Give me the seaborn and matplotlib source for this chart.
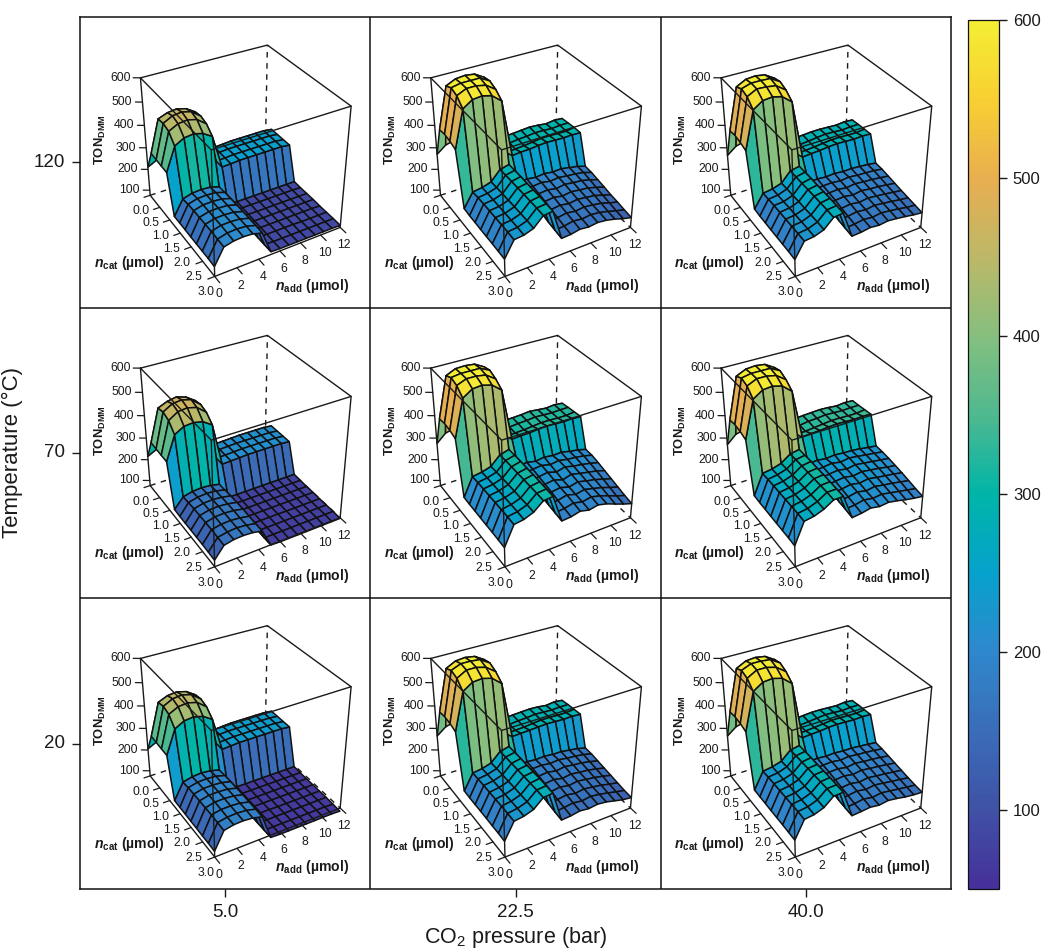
import numpy as np
import matplotlib
matplotlib.use('Agg')
import matplotlib.pyplot as plt
from matplotlib.colors import Normalize
from mpl_toolkits.mplot3d import proj3d
import seaborn as sns

n_add = [0, .857, 1.714, 2.571, 3.429, 4.286, 5.143, 6, 6.857, 7.714, 8.571, 9.429, 10.286, 11.143, 12]
n_cat = [0, .25, .5, .75, 1, 1.25, 1.5, 1.75, 2, 2.25, 2.5, 2.75, 3]
pressures = ['5.0', '22.5', '40.0']
temperatures = ['120', '70', '20']
z_ticks = [100, 200, 300, 400, 500, 600]
add_ticks = [0, 2, 4, 6, 8, 10, 12]
cat_ticks = [0, .5, 1, 1.5, 2, 2.5, 3]
cb_ticks = [100, 200, 300, 400, 500, 600]
cb_stops = ['#46309a', '#3f52a6', '#3a6db8', '#2f88cc', '#05a2cc', '#00b5a8', '#4fb98f', '#85bf7f',
            '#bcb868', '#e8ae50', '#f8cf32', '#f4ee34']

ton_a = [  # 5 bar, 120 C
[210,230,240,240,240,230,180,180,180,180,180,180,180,180,180],
[300,440,455,460,450,425,240,240,242,245,245,245,245,245,240],
[298,445,465,470,460,430,240,242,245,245,245,245,245,245,240],
[296,435,455,460,450,420,240,242,245,245,245,245,245,245,240],
[295,398,420,425,415,390,240,242,245,245,245,245,245,245,240],
[123,190,202,205,202,190,90,90,90,90,90,90,90,90,90],
[123,195,206,208,205,192,90,90,90,90,90,90,90,90,88],
[123,196,207,208,205,193,89,89,88,88,88,88,88,88,88],
[122,196,207,208,205,193,88,88,88,88,88,88,88,88,88],
[122,196,207,208,205,193,88,88,88,88,88,88,88,88,86],
[122,196,207,208,205,193,88,88,88,88,88,86,86,86,86],
[122,194,205,207,204,192,88,86,86,86,86,86,86,86,86],
[120,192,202,205,202,190,88,86,86,86,86,86,86,86,85]]
ton_b = [  # 22.5 bar, 120 C
[270,300,310,310,310,300,200,200,200,200,200,200,200,200,200],
[405,578,596,600,595,572,285,290,292,295,298,295,290,295,292],
[410,592,600,600,600,578,280,285,290,292,296,295,292,295,295],
[405,582,600,600,592,565,280,283,286,290,295,295,293,292,298],
[395,552,578,582,572,540,292,295,296,300,302,300,298,300,298],
[160,222,228,240,282,292,195,198,192,196,190,192,185,178,165],
[157,225,230,242,284,292,188,192,196,188,192,186,182,175,162],
[157,226,230,243,284,292,182,186,190,182,188,182,178,168,155],
[156,226,230,243,284,290,175,180,184,176,182,176,172,160,148],
[156,226,230,244,284,290,168,172,178,170,176,170,165,152,140],
[156,226,230,244,284,290,160,165,172,165,170,165,158,145,135],
[155,226,230,244,284,288,155,158,166,160,165,160,150,138,128],
[154,224,228,242,282,286,150,152,160,155,160,155,145,132,122]]
ton_c = [  # 40 bar, 120 C
[265,295,305,305,305,295,195,195,195,195,195,195,195,195,195],
[400,574,594,598,592,568,278,282,285,288,288,286,284,288,285],
[405,588,600,600,598,575,274,278,282,286,290,288,285,288,288],
[400,578,598,596,590,562,274,277,280,284,288,288,286,285,290],
[390,548,574,578,568,536,285,288,290,294,296,294,292,294,292],
[158,216,222,234,276,284,196,198,194,197,192,193,190,186,180],
[155,218,222,236,276,284,190,194,195,190,194,189,187,184,178],
[155,219,222,236,276,284,185,190,192,186,191,186,183,178,172],
[154,219,223,237,276,282,180,185,188,181,187,181,178,172,166],
[154,219,223,237,276,282,174,178,183,176,182,177,172,166,160],
[154,219,223,238,276,282,168,172,178,172,178,172,167,160,155],
[154,219,223,238,276,280,164,167,173,168,173,168,162,154,150],
[152,218,222,236,274,278,160,162,168,163,168,163,157,150,145]]
ton_d = [  # 5 bar, 70 C
[215,235,245,245,245,235,170,170,170,170,170,170,170,170,170],
[305,445,462,470,458,432,208,208,210,212,214,214,214,214,210],
[303,452,475,480,470,438,208,210,212,214,214,214,214,214,210],
[301,440,465,470,460,428,208,210,212,214,214,214,214,214,210],
[300,405,428,432,424,398,208,210,212,214,214,214,214,214,210],
[110,155,165,168,165,156,78,78,78,78,78,78,78,78,78],
[108,158,168,171,168,158,76,76,76,76,76,76,76,76,76],
[108,160,170,172,168,160,76,75,75,75,75,75,75,75,75],
[108,160,170,172,168,160,75,75,75,75,75,75,75,75,75],
[108,160,170,172,168,160,75,75,75,75,74,74,74,74,74],
[108,160,168,170,166,158,75,74,74,74,74,74,74,74,74],
[107,158,166,169,165,156,74,74,74,74,74,74,74,74,74],
[105,156,165,167,164,155,74,72,72,72,72,72,72,72,72]]
ton_e = [  # 22.5 bar, 70 C
[275,310,320,320,320,310,210,210,210,210,210,210,210,210,210],
[410,580,598,600,596,575,312,318,320,322,326,322,318,322,318],
[415,594,600,600,600,582,308,314,318,320,324,322,320,322,322],
[410,584,600,600,594,568,308,312,314,318,322,322,320,320,325],
[400,556,582,586,576,545,322,325,326,330,332,330,328,330,328],
[167,248,254,266,304,316,225,230,222,228,222,224,216,210,200],
[165,250,256,268,306,316,218,226,230,220,226,218,214,208,198],
[165,250,256,269,306,316,212,220,226,214,224,214,208,200,190],
[164,250,256,270,306,314,205,214,220,206,218,208,200,192,180],
[164,250,256,270,306,314,200,208,214,202,212,202,194,182,170],
[164,250,256,270,306,312,195,200,210,198,206,196,186,172,160],
[163,250,256,271,306,310,190,194,204,194,202,192,178,162,150],
[162,248,254,270,304,308,185,188,198,188,196,186,170,155,142]]
ton_f = [  # 40 bar, 70 C
[270,305,315,315,315,305,225,225,225,225,225,225,225,225,225],
[405,578,596,600,595,572,322,326,330,332,334,332,328,332,330],
[410,592,600,600,600,580,318,322,328,330,334,332,330,332,332],
[405,582,600,600,592,565,318,320,324,328,332,332,330,330,335],
[395,552,578,582,572,540,332,335,336,340,342,340,338,340,338],
[175,262,268,280,308,316,236,240,234,238,234,232,228,222,216],
[173,264,270,282,310,316,230,236,240,232,238,232,226,220,214],
[173,264,270,283,310,316,226,232,236,228,234,228,222,216,210],
[172,264,270,283,310,314,222,228,232,224,230,224,218,210,204],
[172,264,270,284,310,314,216,222,228,220,226,218,212,206,198],
[172,264,270,284,310,312,210,216,224,214,220,212,206,198,190],
[172,264,270,285,310,310,206,210,218,210,214,206,198,190,182],
[170,262,268,283,308,308,200,204,212,204,208,200,190,182,176]]
ton_g = [  # 5 bar, 20 C
[205,225,235,235,235,225,175,175,175,175,175,175,175,175,175],
[290,428,445,450,440,415,232,232,235,238,238,238,238,238,234],
[288,435,455,460,450,420,232,235,238,238,238,238,238,238,234],
[286,425,445,450,440,410,232,235,238,238,238,238,238,238,234],
[285,388,410,415,405,380,232,235,238,238,238,238,238,238,234],
[106,178,188,192,188,178,68,68,68,68,68,68,68,68,68],
[105,182,192,194,191,180,66,66,66,66,66,66,66,66,66],
[105,183,193,194,191,181,66,65,65,65,65,65,65,65,65],
[104,183,193,194,191,181,65,65,65,65,65,65,65,65,65],
[104,183,193,194,191,181,65,65,65,64,64,64,64,64,64],
[103,183,191,192,189,179,64,64,64,64,64,64,64,64,64],
[103,181,189,191,188,178,64,64,64,64,64,64,64,64,62],
[101,179,188,190,186,176,64,62,62,62,62,62,62,62,60]]
ton_h = [  # 22.5 bar, 20 C
[265,295,305,305,305,295,190,190,190,190,190,190,190,190,190],
[398,570,590,594,588,565,280,285,288,290,292,290,285,290,286],
[402,584,600,600,596,572,276,282,286,288,292,290,288,290,290],
[398,574,596,596,586,558,276,280,282,286,290,290,288,288,292],
[388,544,570,574,564,532,290,292,294,296,298,296,294,296,294],
[152,220,226,238,276,286,185,188,184,186,182,182,176,170,160],
[150,222,228,240,278,286,178,184,186,180,184,178,174,168,158],
[150,222,228,241,278,286,174,178,182,174,180,174,170,162,152],
[150,222,228,241,278,284,168,172,177,168,174,168,164,156,146],
[150,222,228,242,278,284,162,166,172,164,170,164,158,150,140],
[149,222,228,242,278,284,156,160,166,158,164,158,152,142,134],
[149,222,228,242,278,282,150,154,160,154,160,154,146,136,128],
[147,220,226,240,276,280,145,148,155,150,155,150,140,130,125]]
ton_i = [  # 40 bar, 20 C
[265,295,305,305,305,295,200,200,200,200,200,200,200,200,200],
[398,570,590,594,588,565,278,282,285,288,288,286,284,288,285],
[402,584,600,600,596,572,274,278,282,286,290,288,285,288,288],
[398,574,596,596,586,558,274,277,280,284,288,288,286,285,290],
[388,544,570,574,564,532,285,288,290,294,296,294,292,294,292],
[156,228,234,246,282,290,200,204,200,202,198,198,194,190,185],
[155,230,235,248,284,290,195,200,202,196,200,195,192,188,182],
[155,230,235,248,284,290,190,196,198,190,196,190,187,182,176],
[154,230,235,249,284,288,184,190,194,186,192,186,182,176,170],
[154,230,235,249,284,288,178,184,188,180,186,180,176,170,164],
[154,230,235,250,284,288,172,178,184,176,182,176,170,164,158],
[153,230,235,250,284,286,168,172,178,170,176,170,164,158,153],
[152,228,233,248,282,284,165,168,172,166,172,166,158,153,150]]

panels = [[ton_a, ton_b, ton_c], [ton_d, ton_e, ton_f], [ton_g, ton_h, ton_i]]

sns.set_theme(style='ticks')
plt.rcParams['font.family'] = ['Liberation Sans', 'DejaVu Sans']
plt.rcParams.update({'mathtext.fontset': 'custom', 'mathtext.rm': 'Liberation Sans',
                     'mathtext.it': 'Liberation Sans:italic', 'mathtext.bf': 'Liberation Sans:bold',
                     'mathtext.bfit': 'Liberation Sans:italic:bold',
                     'text.color': '#1a1a1a', 'xtick.color': '#1a1a1a', 'ytick.color': '#1a1a1a',
                     'axes.labelcolor': '#1a1a1a'})
W, H = 1042, 950
fig = plt.figure(figsize=(W / 100, H / 100), dpi=100)
cmap = sns.blend_palette(cb_stops, as_cmap=True)

outer = fig.add_axes([80 / W, 1 - 889 / H, 871 / W, 872 / H])
cax = fig.add_axes([968 / W, 1 - 889 / H, 31 / W, 869 / H])
means = [[float(np.mean(t)) for t in row] for row in panels]
sns.heatmap(means, ax=outer, cbar_ax=cax, cmap=cmap, vmin=50, vmax=600,
            xticklabels=pressures, yticklabels=temperatures)
outer.collections[0].set_visible(False)
for s in outer.spines.values():
    s.set_visible(True); s.set_linewidth(1.1); s.set_color('#111111')
for k in (1, 2):
    outer.axhline(k, color='#111111', lw=1.1)
    outer.axvline(k, color='#111111', lw=1.1)
outer.tick_params(axis='both', length=6, width=1, labelsize=13.5, pad=5, rotation=0)
outer.set_xlabel('CO$_2$ pressure (bar)', fontsize=15.5, labelpad=2.5)
outer.set_ylabel('Temperature (°C)', fontsize=16)
outer.yaxis.set_label_coords((23 - 80) / 871, 0.5)
cb = outer.collections[0].colorbar
cb.set_ticks(cb_ticks)
cb.ax.tick_params(length=6, width=1, labelsize=12, pad=4)
cb.outline.set_visible(True); cb.outline.set_linewidth(0.9); cb.outline.set_edgecolor('#111111')

ELEV, AZIM, FOC, RY, RZ = 33.878, -119.99, 0.5853, 1.0106, 0.9851
SCALE, TX, TY = 1321.222, 242.516, 154.305
SIZE = SCALE * 0.185
XL, YL, ZL = (0, 12), (3, 0), (75, 600)
STEP = 290.3
LINE = '#1a1a1a'

def box_edges(ax):
    a0, a1 = XL
    c1, c0 = YL
    z0, z1 = ZL
    kw = dict(color=LINE, lw=1.0, zorder=5)
    dash = dict(color=LINE, lw=1.0, zorder=1, ls=(0, (4, 4)))
    ax.plot([a1, a1], [c0, c0], [z0, z1], **dash)
    ax.plot([a0, a1], [c0, c0], [z0, z0], **dash)
    ax.plot([a1, a1], [c0, c1], [z0, z0], **dash)
    ax.plot([a0, a1, a1, a0, a0], [c0, c0, c1, c1, c0], [z1, z1, z1, z1, z1], **kw)
    ax.plot([a0, a0], [c0, c0], [z0, z1], **kw)
    ax.plot([a0, a0], [c1, c1], [z0, z1], **kw)
    ax.plot([a1, a1], [c1, c1], [z0, z1], **kw)
    ax.plot([a0, a1], [c1, c1], [z0, z0], **kw)
    ax.plot([a0, a0], [c0, c1], [z0, z0], **kw)

for r, row in enumerate(panels):
    for c, table in enumerate(row):
        dx, dy = c * STEP, r * STEP
        left = TX - 0.095 * SCALE + dx
        bottom = TY + 0.095 * SCALE + dy
        ax = fig.add_axes([left / W, 1 - bottom / H, SIZE / W, SIZE / H], projection='3d')
        ax.computed_zorder = False
        ax.set_xlim(*XL, view_margin=0); ax.set_ylim(*YL, view_margin=0); ax.set_zlim(*ZL, view_margin=0)
        ax.view_init(ELEV, AZIM, 0)
        ax.set_proj_type('persp', focal_length=FOC)
        ax.set_box_aspect((1, RY, RZ), zoom=1)
        ax.set_axis_off()
        ax.patch.set_alpha(0)
        X, Y = np.meshgrid(n_add, n_cat)
        Z = np.array(table, float)
        box_edges(ax)
        ax.plot_surface(X, Y, Z, cmap=cmap, norm=Normalize(50, 600), rstride=1, cstride=1,
                        edgecolor='#111111', linewidth=1.1, shade=False, antialiased=True, zorder=3)
        M = ax.get_proj()
        def note(x, y, z, s, ox, oy, **k):
            px, py, _ = proj3d.proj_transform(x, y, z, M)
            ax.annotate(s, (px, py), xytext=(ox, oy), textcoords='offset pixels',
                        annotation_clip=False, fontsize=8.8, ha=k.get('ha', 'center'), va='center', zorder=6)
        for t in add_ticks:
            ax.plot([t, t], [3, 3.2], [ZL[0], ZL[0]], color=LINE, lw=0.9, zorder=5, clip_on=False)
            note(t, 3, ZL[0], str(t), 4, -18)
        for t in cat_ticks:
            ax.plot([0, -0.6], [t, t], [ZL[0], ZL[0]], color=LINE, lw=0.9, zorder=5, clip_on=False)
            note(0, t, ZL[0], f'{t:.1f}', -9, -16)
        for t in z_ticks:
            ax.plot([0, -0.5], [0, -0.075], [t, t], color=LINE, lw=0.9, zorder=5, clip_on=False)
            note(0, 0, t, str(t), -10, 0, ha='right')
        fig.text((100 + dx) / W, 1 - (140 + dy) / H, r'$\mathbf{TON}_{\mathbf{DMM}}$', rotation=90,
                 fontsize=9.4, ha='center', va='center')
        fig.text((129 + dx) / W, 1 - (263 + dy) / H, r'$\mathbfit{n}_{\mathbf{cat}}$ (µmol)',
                 fontsize=10.1, fontweight='bold', ha='center', va='center')
        fig.text((312 + dx) / W, 1 - (286 + dy) / H, r'$\mathbfit{n}_{\mathbf{add}}$ (µmol)',
                 fontsize=10.1, fontweight='bold', ha='center', va='center')

fig.savefig('out.png', dpi=100)
